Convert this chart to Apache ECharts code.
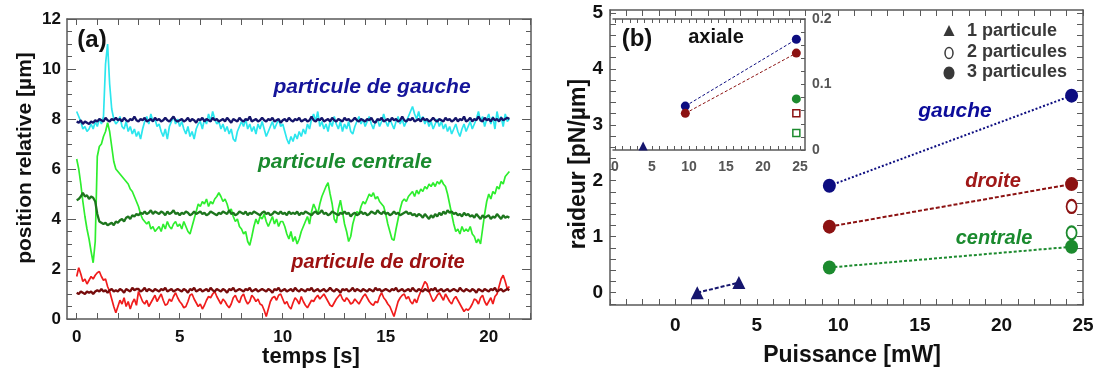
<!DOCTYPE html>
<html><head><meta charset="utf-8">
<script src="https://cdn.jsdelivr.net/npm/echarts@6/dist/echarts.min.js"></script>
<style>html,body{margin:0;padding:0;background:#fff}#c{width:1098px;height:376px}</style>
</head><body><div id="c"></div>
<script>
// ---------- (a) position traces, sampled every T_STEP seconds ----------
const T_STEP = 0.1;
const cyanGauche = [
8.3,8.1,7.9,7.6,7.7,7.5,7.6,7.8,7.6,7.9,
7.7,8.0,7.8,8.1,10.2,11.0,9.4,8.4,8.0,7.8,
7.9,8.1,7.7,7.6,7.9,7.5,7.7,7.4,7.6,7.3,
7.5,7.2,7.6,7.9,8.1,7.8,8.2,7.9,8.0,7.7,
7.8,7.5,7.3,7.6,7.2,7.7,7.9,8.1,7.8,8.0,
7.7,7.9,7.6,7.4,7.7,7.3,7.5,7.2,7.6,7.8,
7.9,7.6,8.0,7.8,8.2,7.9,8.3,8.0,7.8,7.9,
7.6,7.8,7.5,7.7,7.4,7.6,7.2,7.1,7.5,7.7,
7.9,7.7,8.0,7.6,7.8,7.5,7.7,7.4,7.8,7.6,
7.9,7.6,7.3,7.5,7.7,7.9,7.6,7.8,8.0,7.7,
7.8,7.5,7.2,7.0,7.3,7.1,7.4,7.2,7.5,7.3,
7.6,7.4,7.8,7.6,8.0,8.2,7.9,8.3,7.7,7.9,
7.6,7.8,7.5,7.9,7.7,8.1,7.8,7.6,7.9,7.5,
7.8,7.6,7.9,7.5,7.4,7.7,7.9,8.1,7.8,8.0,
7.7,7.9,8.1,7.8,7.6,7.9,8.0,7.7,7.9,8.2,
7.9,7.7,8.0,7.8,7.6,7.9,8.1,7.8,8.0,7.7,
7.9,8.1,8.3,8.5,8.2,8.0,8.3,7.9,8.1,7.8,
8.0,7.7,7.9,7.6,7.8,8.0,7.7,7.9,7.6,7.8,
7.5,7.7,7.4,7.6,7.8,7.5,7.3,7.6,7.8,7.5,
7.7,7.9,7.6,7.8,8.0,8.3,7.9,8.1,7.7,8.0,
8.2,7.8,8.1,7.6,8.3,7.9,8.1,7.7,8.2,7.9,
8.0];
const navyGauche = [
7.9,7.85,7.95,7.8,7.9,7.85,7.8,7.9,7.85,7.95,
7.9,8.0,7.95,7.9,8.05,7.95,7.9,8.0,7.95,8.05,
7.95,8.0,7.9,8.05,7.95,7.9,8.0,7.95,8.1,7.95,
7.9,8.0,7.95,8.05,7.9,7.95,8.0,7.9,8.05,7.95,
8.0,7.9,7.95,8.05,7.95,7.9,8.0,8.1,7.95,7.9,
7.95,8.0,7.9,7.95,8.05,7.9,8.0,7.95,7.85,8.0,
7.95,8.05,7.9,8.0,7.95,7.9,8.05,7.95,8.0,7.9,
7.95,8.0,7.9,8.05,7.95,7.85,8.0,7.95,7.9,8.05,
7.95,7.9,8.0,7.95,8.1,7.9,7.95,8.0,7.9,7.95,
8.05,7.95,7.9,8.0,7.95,8.05,7.9,7.95,8.0,7.85,
7.95,8.0,7.9,8.05,7.95,7.9,8.0,7.95,8.05,7.9,
7.95,8.0,7.9,7.95,8.1,7.95,7.9,8.0,7.95,8.05,
7.9,7.95,8.0,7.9,8.05,7.95,7.9,8.0,7.95,7.9,
8.05,7.95,8.0,7.9,7.95,8.05,7.95,7.9,8.0,7.95,
7.9,8.0,7.95,8.05,7.9,7.85,8.0,7.95,8.05,7.9,
7.95,8.0,7.9,8.05,7.95,8.0,7.9,7.95,8.1,7.95,
7.9,8.0,7.95,8.05,7.9,7.95,8.0,7.9,8.05,7.95,
8.0,7.9,7.95,8.05,7.95,7.9,8.0,7.95,7.9,8.05,
7.95,8.0,7.9,7.95,8.05,7.9,8.0,7.95,8.1,7.9,
7.95,8.05,7.9,8.0,7.95,8.1,7.95,7.9,8.05,7.95,
8.0,7.9,8.05,7.95,8.0,7.9,8.05,7.95,8.0,8.05,
8.0];
const vertClair = [
6.4,6.0,5.4,4.7,4.1,3.6,3.2,2.7,2.25,3.1,
6.5,6.9,7.0,7.3,7.5,7.85,7.5,6.9,6.3,6.0,
5.9,5.8,5.7,5.6,5.5,5.4,5.2,5.1,4.9,4.7,
4.5,4.2,4.0,3.9,3.8,3.9,3.6,3.7,3.5,3.6,
3.7,3.5,3.8,3.6,3.9,3.7,3.6,3.8,3.9,3.7,
3.8,3.6,3.9,3.7,3.5,3.4,3.7,4.0,4.3,4.6,
4.5,4.7,4.6,4.8,4.5,4.7,4.6,4.8,4.9,5.05,
4.9,4.7,4.8,4.6,4.3,4.4,4.1,3.9,4.0,3.7,
3.6,3.4,3.5,3.1,2.95,3.3,3.7,4.0,3.8,4.1,
4.0,4.2,3.9,3.7,3.9,4.1,3.8,4.0,3.7,3.9,
3.9,3.7,3.4,3.2,3.5,3.1,3.3,3.0,3.2,3.5,
3.7,3.9,4.1,3.8,4.3,4.6,4.4,4.2,4.6,4.9,
5.1,5.3,5.45,5.0,4.6,4.0,3.85,4.4,4.75,4.3,
3.8,3.5,3.1,3.3,3.8,4.1,4.3,4.2,4.5,4.7,
4.6,4.8,5.0,4.9,5.05,4.8,4.9,4.7,4.6,4.5,
4.2,3.8,3.5,3.2,3.15,3.6,4.0,4.4,4.7,4.8,
4.7,4.9,5.0,5.1,4.9,5.15,5.0,5.2,5.1,5.3,
5.2,5.4,5.3,5.45,5.3,5.5,5.4,5.56,5.4,5.3,
5.0,4.6,4.2,3.8,3.5,3.6,3.4,3.7,3.5,3.6,
3.5,3.7,3.4,3.3,3.05,3.2,3.0,3.6,4.2,4.7,
5.0,4.8,5.1,5.0,5.3,5.2,5.5,5.4,5.7,5.8,
5.9];
const vertFonce = [
4.75,4.8,4.9,5.05,4.9,4.95,4.8,4.9,4.85,4.7,
4.2,3.9,3.85,3.8,3.85,3.75,3.8,3.85,3.75,3.9,
3.85,3.95,4.0,3.9,4.05,4.1,4.0,4.15,4.1,4.2,
4.15,4.25,4.2,4.3,4.2,4.25,4.35,4.2,4.3,4.25,
4.2,4.3,4.25,4.15,4.3,4.2,4.25,4.35,4.2,4.25,
4.15,4.25,4.2,4.3,4.25,4.15,4.2,4.3,4.2,4.25,
4.3,4.2,4.25,4.15,4.2,4.3,4.25,4.2,4.15,4.25,
4.2,4.3,4.25,4.2,4.35,4.2,4.25,4.15,4.2,4.3,
4.25,4.2,4.3,4.15,4.25,4.2,4.3,4.25,4.2,4.15,
4.25,4.3,4.2,4.25,4.15,4.2,4.3,4.25,4.2,4.3,
4.2,4.25,4.15,4.3,4.2,4.25,4.2,4.3,4.15,4.25,
4.2,4.3,4.25,4.2,4.15,4.25,4.3,4.2,4.25,4.35,
4.2,4.25,4.15,4.2,4.3,4.25,4.2,4.15,4.25,4.2,
4.3,4.2,4.25,4.1,4.2,4.25,4.15,4.2,4.3,4.2,
4.25,4.15,4.2,4.3,4.25,4.2,4.35,4.25,4.2,4.3,
4.2,4.25,4.15,4.2,4.3,4.2,4.25,4.15,4.2,4.25,
4.3,4.2,4.25,4.15,4.2,4.1,4.2,4.15,4.05,4.2,
4.1,4.0,4.15,4.05,4.2,4.1,4.25,4.15,4.3,4.2,
4.35,4.25,4.3,4.2,4.25,4.15,4.2,4.1,4.25,4.15,
4.2,4.1,4.15,4.05,4.2,4.1,4.0,4.15,4.05,4.1,
4.15,4.0,4.1,4.05,4.2,4.1,4.0,4.15,4.05,4.1,
4.05];
const rougeClair = [
1.7,2.05,1.8,1.5,1.6,1.4,1.55,1.7,1.6,1.75,
1.85,1.9,1.7,1.55,1.6,1.3,1.1,0.8,0.5,0.25,
0.5,0.75,0.6,0.85,0.5,0.7,0.4,0.65,0.8,0.55,
1.1,0.9,0.7,0.6,0.75,0.5,0.65,0.8,0.95,0.7,
0.85,1.0,0.75,0.55,0.6,0.8,0.7,0.9,1.05,0.85,
0.7,0.6,0.45,0.5,0.7,0.95,1.0,0.8,0.65,0.5,
0.6,0.4,0.55,0.75,0.9,0.85,1.0,1.1,0.9,0.75,
0.6,0.8,0.7,0.55,0.45,0.6,0.85,0.95,0.75,0.65,
0.9,1.0,0.75,0.6,0.7,0.95,0.85,0.7,0.8,0.6,
0.55,0.35,0.1,0.4,0.7,0.85,0.9,0.75,0.95,1.0,
0.8,0.6,0.7,0.5,0.4,0.65,0.85,0.75,0.6,0.9,
0.7,0.55,0.45,0.6,0.75,0.7,0.85,0.95,0.8,0.9,
1.0,0.85,0.7,0.55,0.5,0.65,0.8,0.9,1.0,0.8,
0.7,0.85,0.75,0.6,0.65,0.8,0.7,0.6,0.75,0.9,
1.0,0.85,0.7,0.6,0.55,0.7,0.65,0.9,1.05,0.85,
0.75,0.6,0.5,0.3,0.1,0.4,0.7,0.85,0.95,1.0,
0.8,0.9,0.7,0.6,0.8,0.65,0.9,1.1,1.3,1.5,
1.4,1.1,0.9,0.7,0.8,0.95,1.05,0.9,0.75,1.0,
0.85,0.7,0.6,0.8,0.9,0.75,0.6,0.45,0.3,0.4,
0.35,0.45,0.6,0.8,0.75,0.6,0.85,0.95,0.7,0.55,
0.7,0.85,0.6,0.9,1.0,1.3,1.6,1.75,1.5,1.2,
1.3];
const rougeFonce = [
1.05,1.0,1.1,1.05,1.0,1.1,1.05,1.1,1.0,1.1,
1.15,1.1,1.2,1.1,1.15,1.05,1.15,1.2,1.1,1.15,
1.1,1.2,1.15,1.05,1.2,1.15,1.1,1.25,1.15,1.2,
1.2,1.1,1.15,1.25,1.1,1.2,1.15,1.1,1.2,1.15,
1.1,1.2,1.15,1.25,1.1,1.15,1.2,1.1,1.15,1.2,
1.15,1.1,1.2,1.15,1.05,1.2,1.15,1.25,1.1,1.15,
1.2,1.1,1.15,1.2,1.1,1.25,1.15,1.1,1.2,1.15,
1.1,1.2,1.15,1.05,1.2,1.15,1.25,1.1,1.15,1.2,
1.15,1.1,1.2,1.15,1.25,1.1,1.15,1.2,1.1,1.15,
1.2,1.15,1.1,1.2,1.15,1.05,1.2,1.15,1.25,1.1,
1.15,1.2,1.1,1.15,1.2,1.1,1.25,1.15,1.1,1.2,
1.15,1.1,1.2,1.15,1.25,1.1,1.15,1.2,1.1,1.15,
1.2,1.1,1.15,1.25,1.15,1.1,1.2,1.15,1.05,1.2,
1.15,1.2,1.1,1.15,1.25,1.1,1.2,1.15,1.1,1.2,
1.15,1.1,1.2,1.15,1.1,1.25,1.15,1.2,1.1,1.15,
1.2,1.15,1.1,1.2,1.15,1.25,1.1,1.15,1.2,1.1,
1.15,1.2,1.1,1.25,1.15,1.1,1.2,1.15,1.1,1.2,
1.15,1.1,1.2,1.15,1.25,1.1,1.15,1.2,1.1,1.15,
1.2,1.1,1.15,1.2,1.15,1.1,1.25,1.15,1.1,1.2,
1.15,1.1,1.2,1.15,1.05,1.2,1.15,1.1,1.2,1.15,
1.1,1.2,1.15,1.25,1.1,1.15,1.2,1.1,1.15,1.2,
1.15];
const tempsTicks = [0,1,2,3,4,5,6,7,8,9,10,11,12,13,14,15,16,17,18,19,20,21,22];
const tempsLabels = [0,5,10,15,20];

// ---------- (b) stiffness vs power ----------
const puissance1 = [1.35, 3.9];
const raideur1 = [0.0, 0.18];
const puissance3 = [9.45, 24.3];
const gauche3 = [1.91, 3.52];
const droite3 = [1.18, 1.94];
const centrale3 = [0.45, 0.82];
const puissance2 = [24.3];
const droite2 = [1.54];
const centrale2 = [1.07];
const puissanceTicks = [-4,-3,-2,-1,0,1,2,3,4,5,6,7,8,9,10,11,12,13,14,15,16,17,18,19,20,21,22,23,24,25];
const puissanceLabels = [0,5,10,15,20,25];
const raideurTicks = [-0.2,0,0.2,0.4,0.6,0.8,1,1.2,1.4,1.6,1.8,2,2.2,2.4,2.6,2.8,3,3.2,3.4,3.6,3.8,4,4.2,4.4,4.6,4.8,5];
const raideurLabels = [0,1,2,3,4,5];
// inset: axial stiffness
const axPuissance1 = [3.8];
const axRaideur1 = [0.006];
const axPuissance3 = [9.5, 24.5];
const axGauche3 = [0.067, 0.169];
const axDroite3 = [0.056, 0.148];
const axPuissance3c = [24.5];
const axCentrale3 = [0.078];
const axPuissance2 = [24.5];
const axDroite2 = [0.056];
const axCentrale2 = [0.026];
const axTicksX = [0,1,2,3,4,5,6,7,8,9,10,11,12,13,14,15,16,17,18,19,20,21,22,23,24,25];
const axLabelsX = [0,5,10,15,20,25];
const axTicksY = [0,0.02,0.04,0.06,0.08,0.1,0.12,0.14,0.16,0.18,0.2];
const axLabelsY = [0,0.1,0.2];

// ---------- build ----------
const FF = '"Liberation Sans", Arial, sans-serif';
const pairs = (xs, ys) => ys.map((v, i) => [xs[i], v]);
const trace = arr => arr.map((v, i) => [+(i * T_STEP).toFixed(1), v]);
const AX = '#5a5a5a';
const line = {show: true, onZero: false, lineStyle: {color: AX, width: 1.5}};
const noSplit = {show: false};
function ax(extra, labels, ticks, tickLen, lblStyle) {
  return Object.assign({
    type: 'value', axisLine: line, splitLine: noSplit,
    axisTick: ticks ? {show: true, inside: true, length: tickLen, customValues: ticks, lineStyle: {color: AX, width: 1}} : {show: true, inside: true, length: tickLen, lineStyle: {color: AX}},
    axisLabel: labels ? Object.assign({customValues: labels}, lblStyle) : (lblStyle ? lblStyle : {show: false})
  }, extra);
}
const lblA = {color: '#111', fontSize: 17, fontWeight: 'bold', fontFamily: FF};
const lblB = {color: '#111', fontSize: 19, fontWeight: 'bold', fontFamily: FF};
const lblI = {color: '#555', fontSize: 14, fontWeight: 'bold', fontFamily: FF};

const xAxis = [
  ax({gridIndex: 0, position: 'bottom', min: -0.47, max: 22.05}, tempsLabels, tempsTicks, 6, Object.assign({margin: 10}, lblA)),
  ax({gridIndex: 0, position: 'top', min: -0.47, max: 22.05}, null, tempsTicks, 6),
  ax({gridIndex: 1, position: 'bottom', min: -4, max: 25}, puissanceLabels, puissanceTicks, 6, Object.assign({margin: 11}, lblB)),
  ax({gridIndex: 1, position: 'top', min: -4, max: 25}, null, puissanceTicks, 6),
  ax({gridIndex: 2, position: 'bottom', min: -0.27, max: 25.67}, axLabelsX, axTicksX, 4, Object.assign({margin: 10}, lblI)),
  ax({gridIndex: 2, position: 'top', min: -0.27, max: 25.67}, null, axTicksX, 4)
];
const yLeftA = {gridIndex: 0, type: 'value', min: 0, max: 12, interval: 2, axisLine: line, splitLine: noSplit,
  axisTick: {show: true, inside: true, length: 9, lineStyle: {color: AX}},
  minorTick: {show: true, splitNumber: 4, length: 5, lineStyle: {color: AX}}};
const yAxis = [
  Object.assign({}, yLeftA, {position: 'left', axisLabel: Object.assign({margin: 6}, lblA)}),
  Object.assign({}, yLeftA, {position: 'right', axisLabel: {show: false}}),
  ax({gridIndex: 1, position: 'left', min: -0.22, max: 5.05}, raideurLabels, raideurTicks, 6, Object.assign({margin: 7}, lblB)),
  ax({gridIndex: 1, position: 'right', min: -0.22, max: 5.05}, null, raideurTicks, 6),
  ax({gridIndex: 2, position: 'right', min: 0, max: 0.2}, axLabelsY, axTicksY, 4, Object.assign({margin: 7}, lblI)),
  Object.assign(ax({gridIndex: 2, position: 'left', min: 0, max: 0.2}, null, null, 0), {show: false})
];

const traceS = (data, color, w, z) => ({type: 'line', xAxisIndex: 0, yAxisIndex: 0, data: trace(data), showSymbol: false, symbol: 'none', z: z,
  lineStyle: {color: color, width: w}, itemStyle: {color: color}});
const NAVY = '#0d0d80', RED = '#8c1212', GREEN = '#1c8a2e', TRI = '#16166e';
const lineS = (xi, yi, xs, ys, color, sym, size, w, dash) => ({type: 'line', xAxisIndex: xi, yAxisIndex: yi, data: pairs(xs, ys),
  symbol: sym, symbolSize: size, showSymbol: true, itemStyle: {color: color, opacity: 1},
  lineStyle: {color: color, width: w, type: dash}, z: 5});
const openS = (xi, yi, xs, ys, color, sym, size, bw) => ({type: 'scatter', xAxisIndex: xi, yAxisIndex: yi, data: pairs(xs, ys),
  symbol: sym, symbolSize: size, itemStyle: {color: '#fff', borderColor: color, borderWidth: bw, opacity: 1}, z: 5});

const series = [
  traceS(cyanGauche, '#2ce6ee', 1.7, 2),
  traceS(vertClair, '#2eee2e', 1.7, 2),
  traceS(rougeClair, '#f01c1c', 1.7, 2),
  traceS(navyGauche, '#15156a', 2.3, 3),
  traceS(vertFonce, '#1d761d', 2.3, 3),
  traceS(rougeFonce, '#760c0c', 2.3, 3),
  lineS(2, 2, puissance1, raideur1, TRI, 'triangle', 13, 2, [4, 2]),
  lineS(2, 2, puissance3, gauche3, NAVY, 'circle', [13, 14], 2, [2, 2]),
  lineS(2, 2, puissance3, droite3, RED, 'circle', [13, 14], 2, [4, 2]),
  lineS(2, 2, puissance3, centrale3, GREEN, 'circle', [13, 14], 2, [3, 2]),
  openS(2, 2, puissance2, droite2, RED, 'circle', [10, 13], 2),
  openS(2, 2, puissance2, centrale2, GREEN, 'circle', [10, 13], 2),
  lineS(4, 4, axPuissance1, axRaideur1, TRI, 'triangle', 9, 1, 'dashed'),
  lineS(4, 4, axPuissance3, axGauche3, NAVY, 'circle', 9, 1, [3, 2]),
  lineS(4, 4, axPuissance3, axDroite3, RED, 'circle', 9, 1, [3, 2]),
  lineS(4, 4, axPuissance3c, axCentrale3, GREEN, 'circle', 9, 1, 'dashed'),
  openS(4, 4, axPuissance2, axDroite2, RED, 'rect', 7, 1.5),
  openS(4, 4, axPuissance2, axCentrale2, GREEN, 'rect', 7, 1.5)
];

const txt = (text, x, y, size, color, opts) => Object.assign({type: 'text', x: x, y: y, z: 100,
  style: {text: text, fill: color, font: (opts && opts.italic ? 'italic ' : '') + 'bold ' + size + 'px ' + FF, textAlign: 'center', textVerticalAlign: 'middle'}},
  opts && opts.rot ? {rotation: Math.PI / 2} : {});

const graphic = [
  txt('(a)', 92, 40, 24, '#111'),
  txt('particule de gauche', 372, 87, 21, '#14149a', {italic: true}),
  txt('particule centrale', 345, 162, 21, '#1a8a2e', {italic: true}),
  txt('particule de droite', 378, 262, 20, '#9c1010', {italic: true}),
  txt('temps [s]', 311, 357, 22, '#111'),
  txt('position relative [µm]', 25, 158, 21, '#111', {rot: true}),
  txt('(b)', 637, 39, 24, '#111'),
  txt('axiale', 716, 37, 20, '#111'),
  txt('gauche', 955, 111, 21, '#0c0c9a', {italic: true}),
  txt('droite', 993, 181, 20, '#a01818', {italic: true}),
  txt('centrale', 994, 238, 20, '#1a8a2e', {italic: true}),
  txt('Puissance [mW]', 852, 356, 23, '#111'),
  txt('raideur [pN/µm]', 579, 164, 23, '#111', {rot: true}),
  {type: 'text', x: 967, y: 31, z: 100, style: {text: '1 particule', fill: '#383838', font: 'bold 18px ' + FF, textAlign: 'left', textVerticalAlign: 'middle'}},
  {type: 'text', x: 967, y: 52, z: 100, style: {text: '2 particules', fill: '#383838', font: 'bold 18px ' + FF, textAlign: 'left', textVerticalAlign: 'middle'}},
  {type: 'text', x: 967, y: 72, z: 100, style: {text: '3 particules', fill: '#383838', font: 'bold 18px ' + FF, textAlign: 'left', textVerticalAlign: 'middle'}},
  {type: 'polygon', z: 100, shape: {points: [[949, 25], [954.5, 36], [943.5, 36]]}, style: {fill: '#383838'}},
  {type: 'ellipse', z: 100, shape: {cx: 949, cy: 53, rx: 4, ry: 5.5}, style: {fill: '#fff', stroke: '#383838', lineWidth: 1.5}},
  {type: 'ellipse', z: 100, shape: {cx: 949, cy: 73, rx: 5.5, ry: 6.5}, style: {fill: '#383838'}}
];

const chart = echarts.init(document.getElementById('c'), null, {renderer: 'canvas'});
chart.setOption({
  animation: false,
  backgroundColor: '#fff',
  grid: [
    {left: 67, top: 19, width: 464, height: 300},
    {left: 610, top: 10, width: 473, height: 295},
    {left: 613, top: 19, width: 192, height: 131}
  ],
  xAxis: xAxis,
  yAxis: yAxis,
  series: series,
  graphic: graphic
});
</script></body></html>
